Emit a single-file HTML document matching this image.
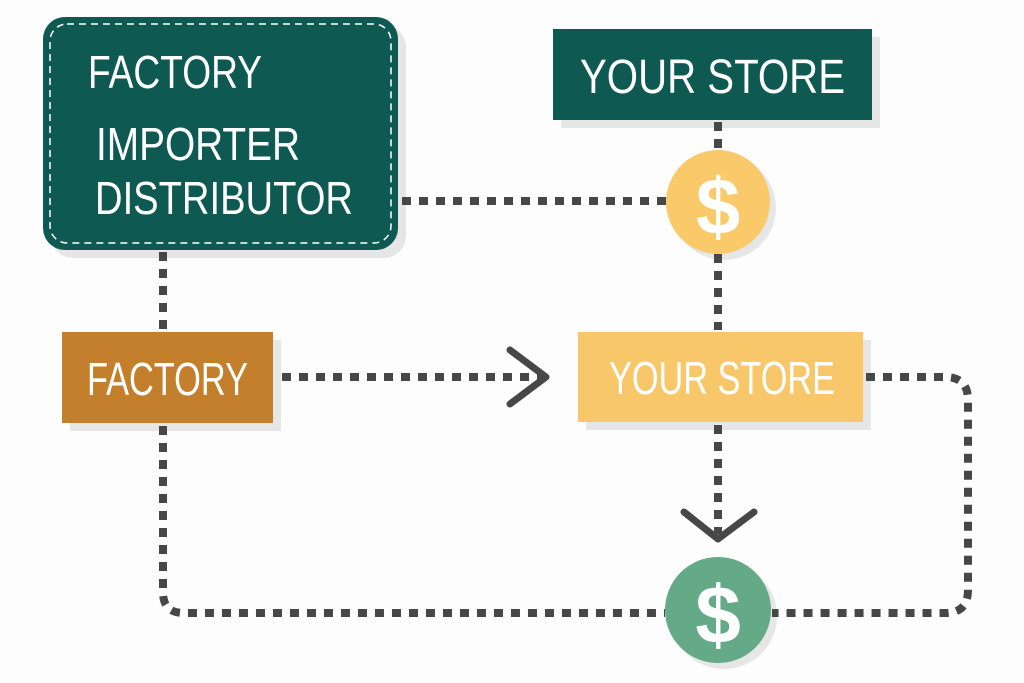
<!DOCTYPE html>
<html><head><meta charset="utf-8"><style>
html,body{margin:0;padding:0;background:#fff;}
svg{display:block;}
text{font-family:"Liberation Sans",sans-serif;fill:#fff;}
</style></head><body>
<svg width="1024" height="683" viewBox="0 0 1024 683" xmlns="http://www.w3.org/2000/svg">
<rect width="1024" height="683" fill="#fdfdfd"/>
<g fill="#e6e6e6">
<rect x="51" y="25" width="355" height="233" rx="22"/>
<rect x="561" y="37" width="319" height="91"/>
<rect x="70" y="340" width="211" height="91"/>
<rect x="586" y="340" width="285" height="90"/>
<circle cx="724" cy="208" r="52"/>
<circle cx="724" cy="616" r="53"/>
</g>
<g fill="none" stroke="#474747" stroke-width="8" stroke-dasharray="9 8">
<line x1="402" y1="201" x2="666" y2="201"/>
<line x1="718" y1="122" x2="718" y2="150"/>
<line x1="718" y1="254" x2="718" y2="330"/>
<line x1="163" y1="252" x2="163" y2="330"/>
<line x1="282" y1="377" x2="545" y2="377"/>
<path d="M163 426 V592 Q163 613 184 613 H665"/>
<path d="M866 377 H945 Q968 377 968 400 V590 Q968 613 945 613 H772"/>
<line x1="718" y1="425" x2="718" y2="534"/>
</g>
<g fill="none" stroke="#474747" stroke-width="7" stroke-linecap="round" stroke-linejoin="round">
<polyline points="510,350 546,377 510,404"/>
<polyline points="684,512 718,539 754,512"/>
</g>
<rect x="43" y="17" width="355" height="233" rx="22" fill="#0e5a53"/>
<rect x="50" y="24" width="341" height="219" rx="17" fill="none" stroke="#fff" stroke-width="1.5" stroke-dasharray="7 5"/>
<text x="88" y="88" font-size="46" textLength="174" lengthAdjust="spacingAndGlyphs">FACTORY</text>
<text x="96" y="160" font-size="46" textLength="204" lengthAdjust="spacingAndGlyphs">IMPORTER</text>
<text x="95" y="214" font-size="46" textLength="258" lengthAdjust="spacingAndGlyphs">DISTRIBUTOR</text>
<rect x="553" y="29" width="319" height="91" fill="#0e5a53"/>
<text x="580" y="93" font-size="48" textLength="265" lengthAdjust="spacingAndGlyphs">YOUR STORE</text>
<circle cx="718" cy="202" r="52" fill="#f9c96a"/>
<text x="718" y="234" font-size="80" font-weight="bold" text-anchor="middle">$</text>
<rect x="62" y="332" width="211" height="91" fill="#c47f2c"/>
<text x="87" y="395" font-size="46" textLength="161" lengthAdjust="spacingAndGlyphs">FACTORY</text>
<rect x="578" y="332" width="285" height="90" fill="#f8c769"/>
<text x="609" y="394" font-size="46" textLength="226" lengthAdjust="spacingAndGlyphs">YOUR STORE</text>
<circle cx="718" cy="610" r="53" fill="#64aa86"/>
<text x="718" y="643" font-size="82" font-weight="bold" text-anchor="middle">$</text>
</svg>
</body></html>
